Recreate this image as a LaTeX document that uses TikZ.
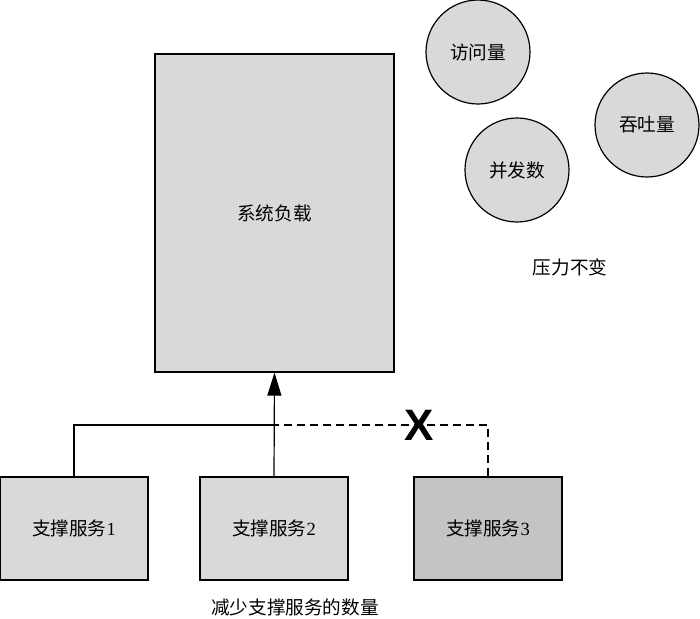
\documentclass[tikz,border=0pt]{standalone}
\usepackage{fontspec}
\setmainfont{Liberation Serif}
\setsansfont{Liberation Sans}
\newfontfamily\cjk{Noto Sans CJK SC}
\usepackage{tikz}
\usetikzlibrary{positioning,arrows.meta}
\definecolor{boxgray}{gray}{0.85}
\definecolor{offgray}{gray}{0.77}
\tikzset{sysbox/.style={draw,fill=boxgray,line width=0.6pt,minimum
width=119.5pt,minimum height=159pt,inner sep=0pt},svc/.style={draw,fill=boxgray,
line width=0.6pt,minimum width=74pt,minimum height=51.5pt,inner
sep=0pt},metric/.style={draw,fill=boxgray,circle,line width=0.6pt,minimum
size=52pt,inner sep=0pt}}

\begin{document}
\begin{tikzpicture}[
			x=0.5pt,y=0.5pt,
			font=\fontsize{9.3}{11}\selectfont,
			line width=0.6pt
		]
		\useasboundingbox (0,0) rectangle (700,618);
		\node[sysbox] (load) at (274.5,405) {\cjk 系统负载};
		\node[svc] (svc1) at (74,89.5) {{\cjk 支撑服务}1};
		\node[svc] (svc2) at (274,89.5) {{\cjk 支撑服务}2};
		\node[svc,fill=offgray] (svc3) at (488,89.5) {{\cjk 支撑服务}3};
		\node[metric] (visits) at (478,566) {\cjk 访问量};
		\node[metric] (tput) at (647,493) {\cjk 吞吐量};
		\node[metric] (conc) at (517,448) {\cjk 并发数};
		\node (pressure) at (570,351) {\cjk 压力不变};
		\node (caption) at (295,11) {\cjk 减少支撑服务的数量};
		% connectors
		\coordinate (join) at (274,193);
		\draw (svc1.north) |- (join);
		\draw[-{Triangle[length=11.5pt,width=7pt]}] (svc2.north) -- (load.south);
		\draw[dash pattern=on 4pt off 2.5pt] (svc3.north) |- (join);
		\node[font=\sffamily\bfseries\fontsize{22}{22}\selectfont,inner sep=0pt] (cut) at (419,193) {X};
	\end{tikzpicture}
\end{document}
